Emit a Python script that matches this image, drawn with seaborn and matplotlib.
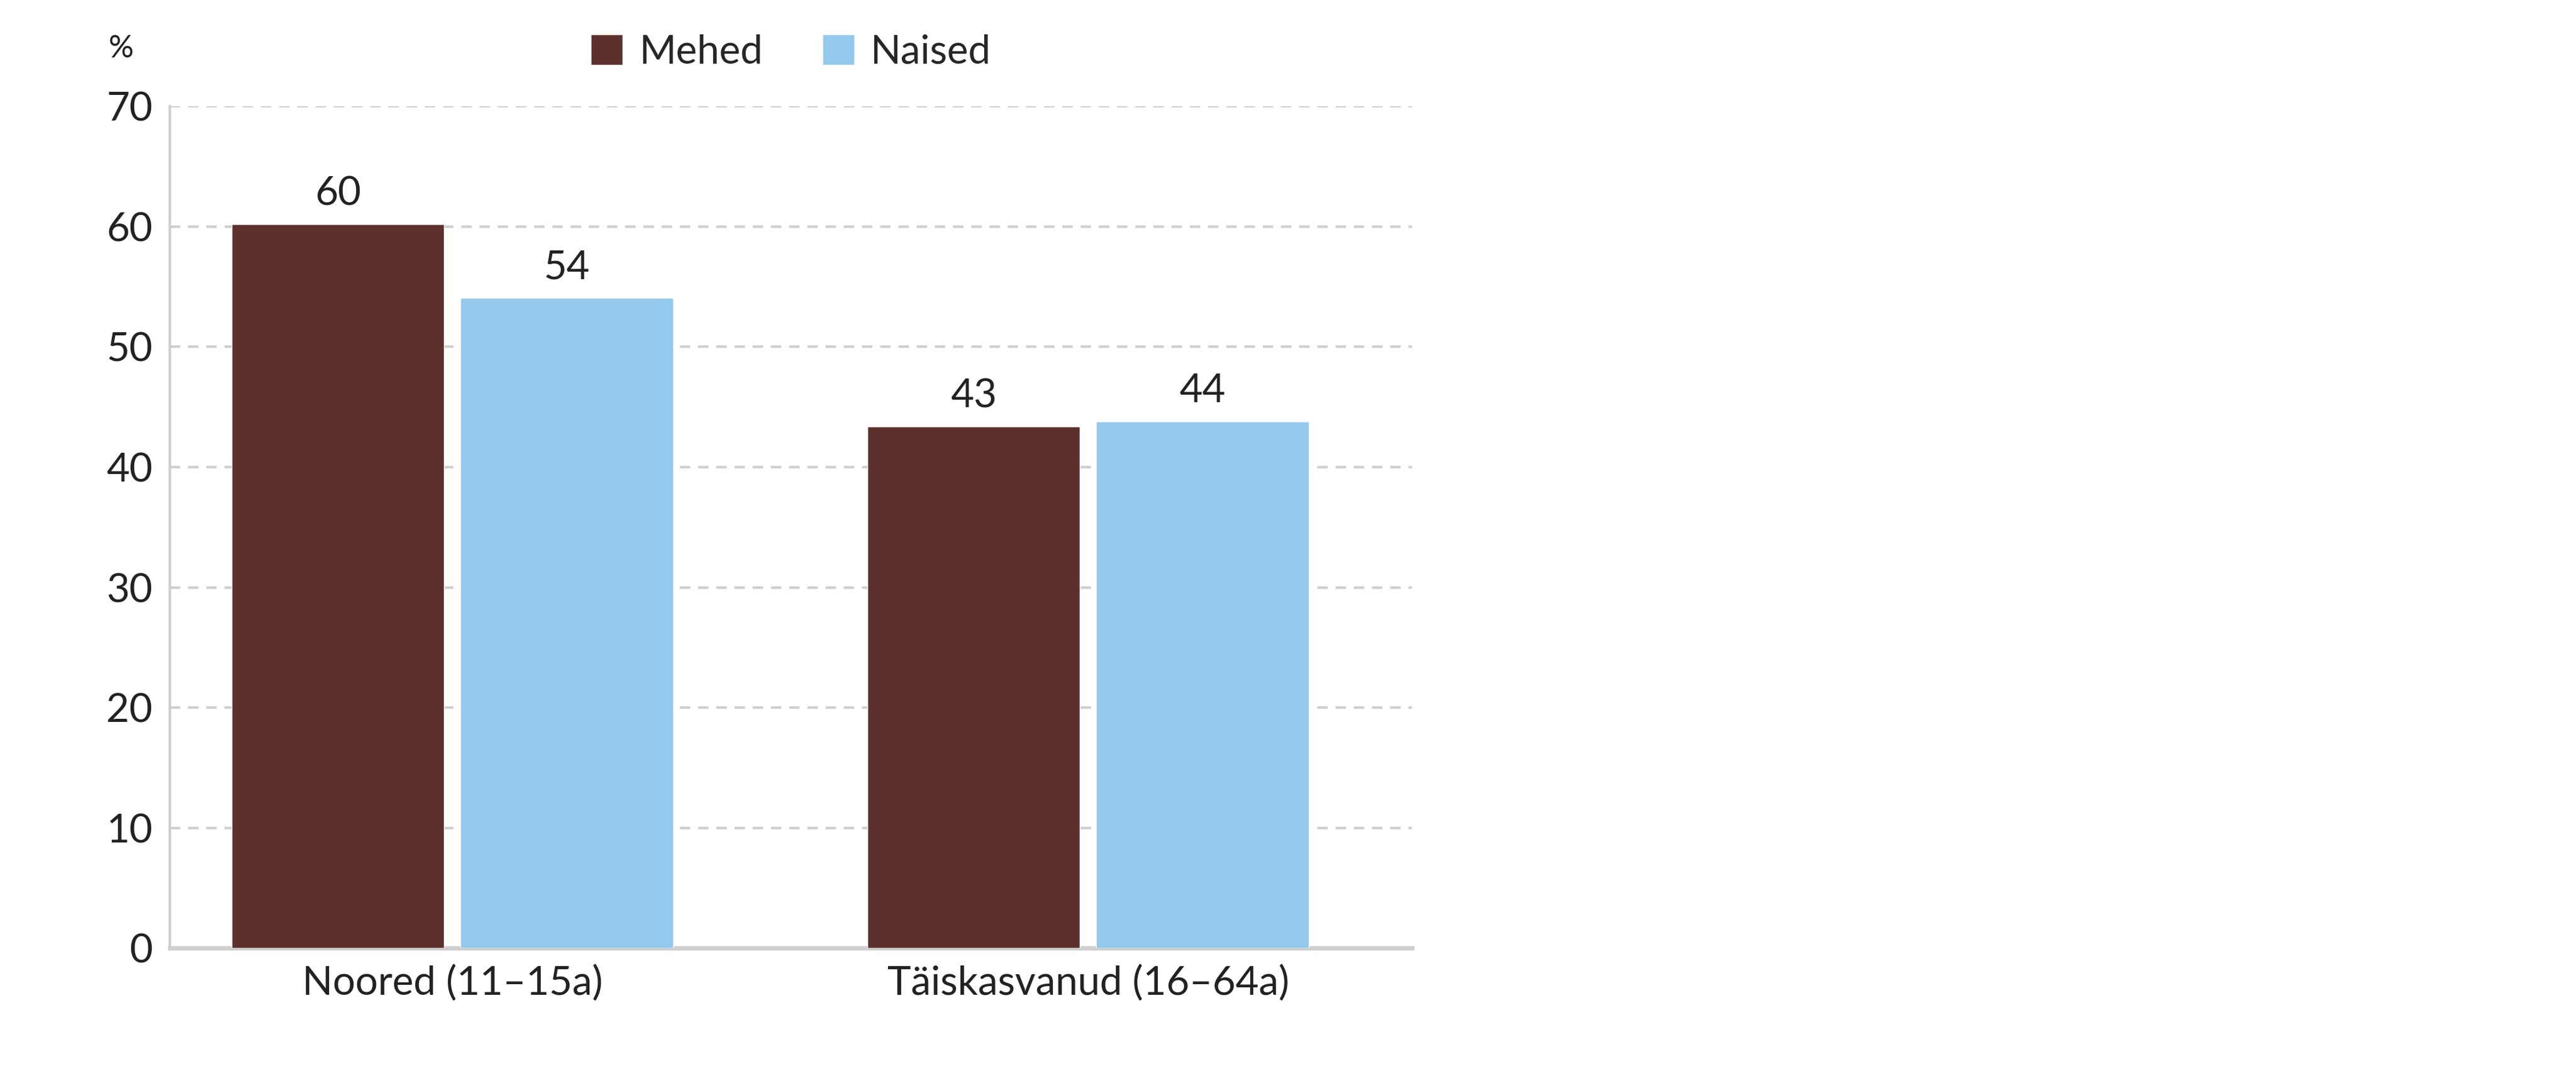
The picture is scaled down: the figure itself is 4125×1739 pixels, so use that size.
import matplotlib
matplotlib.use("Agg")
import matplotlib.pyplot as plt
import seaborn as sns
import pandas as pd

categories = ["Noored (11–15a)", "Täiskasvanud (16–64a)"]
series = ["Mehed", "Naised"]
mehed = [60.2, 43.4]
naised = [54.1, 43.8]
colors = ["#5c312d", "#93c9ec"]

df = pd.DataFrame({
    "cat": categories * 2,
    "sex": [series[0]] * 2 + [series[1]] * 2,
    "val": mehed + naised,
})

sns.set_theme(style="white")
plt.rcParams['font.family'] = ['Lato', 'DejaVu Sans']
fs = 46

fig = plt.figure(figsize=(41.25, 17.39), dpi=100)
ax = fig.add_axes([0.066, 0.127, 0.482, 0.775])
sns.barplot(data=df, x="cat", y="val", hue="sex", palette=colors, width=0.72,
            gap=0.07, ax=ax, saturation=1, legend=True, zorder=3)
ax.set_xlim(-0.444, 1.509)
ax.set_ylim(0, 70)
ax.set_yticks(range(0, 71, 10))
ax.yaxis.grid(True, linestyle=(0, (4, 3)), color="#d0d0d0", linewidth=3, zorder=0)
ax.set_axisbelow(True)
ax.tick_params(axis='both', labelsize=fs, length=0, pad=20, colors="#222222")
ax.set_xlabel(""); ax.set_ylabel("")
for s in ["top", "right"]:
    ax.spines[s].set_visible(False)
ax.spines["left"].set_color("#cfcfcf"); ax.spines["left"].set_linewidth(3)
ax.spines["bottom"].set_color("#cfcfcf"); ax.spines["bottom"].set_linewidth(5)
for c in ax.containers:
    ax.bar_label(c, labels=[f"{v:.0f}" for v in c.datavalues], fontsize=fs,
                 padding=14, color="#222222")
ax.legend(loc="lower center", bbox_to_anchor=(0.5, 1.0), ncol=2, frameon=False,
          fontsize=fs, handlelength=0.8, handleheight=0.8, columnspacing=1.5,
          handletextpad=0.4)
fig.text(0.047, 0.955, "%", fontsize=36, ha="center", va="center", color="#222222")
fig.savefig("out.png", dpi=100)
